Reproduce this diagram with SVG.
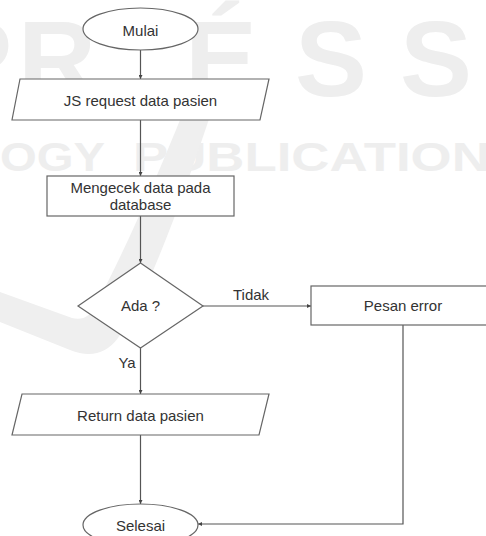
<svg xmlns="http://www.w3.org/2000/svg" width="486" height="536" viewBox="0 0 486 536">
  <defs>
    <style>
      .shape { fill: #ffffff; stroke: #666666; stroke-width: 1.2; }
      .lbl { font-family: "Liberation Sans", Arial, sans-serif; font-size: 15px; fill: #333333; text-anchor: middle; }
      .edge { fill: none; stroke: #555555; stroke-width: 1.2; }
      .wm { font-family: "Liberation Sans", Arial, sans-serif; font-weight: bold; fill: #eeeeee; }
    </style>
    <marker id="arrow" viewBox="0 0 6 6" refX="6" refY="3" markerWidth="4" markerHeight="4" orient="auto" markerUnits="userSpaceOnUse">
      <path d="M0,0 L6,3 L0,6 z" fill="#444444"/>
    </marker>
  </defs>

  <rect width="486" height="536" fill="#ffffff"/>

  <!-- background publisher watermark -->
  <g id="watermark">
    <text class="wm" x="-60 18 185 295 400" y="96" font-size="108">PRÉSS</text>
    <text class="wm" x="0" y="171" font-size="40" textLength="105" lengthAdjust="spacingAndGlyphs">OGY</text>
    <text class="wm" x="133" y="171" font-size="40" textLength="392" lengthAdjust="spacingAndGlyphs">PUBLICATIONS</text>
    <path d="M184,110 L212,110 C182,200 150,290 118,338 Q100,362 70,350 L0,322 L0,292 L72,318 Q88,322 96,305 C125,250 156,180 184,110 Z" fill="#efefef"/>
  </g>

  <!-- connectors -->
  <g id="connectors">
    <line class="edge" x1="140.5" y1="50" x2="140.5" y2="79" marker-end="url(#arrow)"/>
    <line class="edge" x1="140.5" y1="120" x2="140.5" y2="176" marker-end="url(#arrow)"/>
    <line class="edge" x1="140.5" y1="216" x2="140.5" y2="263" marker-end="url(#arrow)"/>
    <line class="edge" x1="203" y1="306" x2="311" y2="306" marker-end="url(#arrow)"/>
    <line class="edge" x1="140.5" y1="348" x2="140.5" y2="394" marker-end="url(#arrow)"/>
    <line class="edge" x1="140.5" y1="435" x2="140.5" y2="504" marker-end="url(#arrow)"/>
    <polyline class="edge" points="403,325 403,524 198,524" marker-end="url(#arrow)"/>
    <text class="lbl" x="251" y="300">Tidak</text>
    <text class="lbl" x="127" y="368">Ya</text>
  </g>

  <g id="start">
    <ellipse class="shape" cx="140.5" cy="29" rx="57.5" ry="21"/>
    <text class="lbl" x="140.5" y="36">Mulai</text>
  </g>

  <g id="request">
    <polygon class="shape" points="20,79 269,79 260,120 12,120"/>
    <text class="lbl" x="140.5" y="106">JS request data pasien</text>
  </g>

  <g id="check">
    <rect class="shape" x="47" y="176" width="187" height="40"/>
    <text class="lbl" x="140.5" y="193">Mengecek data pada</text>
    <text class="lbl" x="140.5" y="210">database</text>
  </g>

  <g id="decision">
    <polygon class="shape" points="140.5,263 203,306 140.5,348 78,306"/>
    <text class="lbl" x="140.5" y="311">Ada ?</text>
  </g>

  <g id="error">
    <rect class="shape" x="311" y="286" width="186" height="39"/>
    <text class="lbl" x="403" y="311">Pesan error</text>
  </g>

  <g id="return">
    <polygon class="shape" points="22,394 269,394 259,435 12,435"/>
    <text class="lbl" x="140.5" y="421">Return data pasien</text>
  </g>

  <g id="end">
    <ellipse class="shape" cx="140.5" cy="525" rx="57.5" ry="21"/>
    <text class="lbl" x="140.5" y="531">Selesai</text>
  </g>
</svg>
